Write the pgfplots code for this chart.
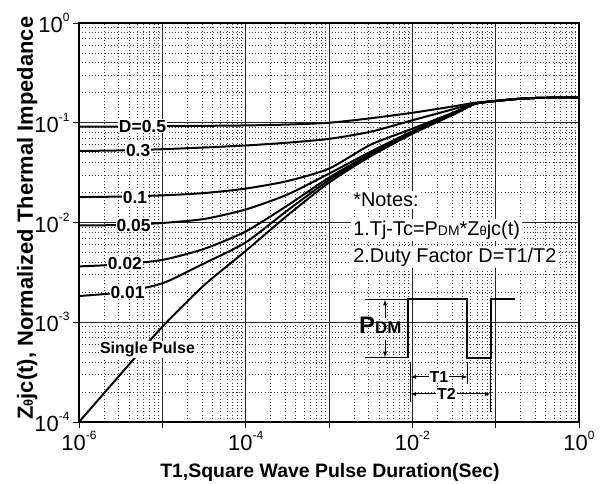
\documentclass[border=0pt]{standalone}
\usepackage{fontspec}
\setmainfont{Liberation Sans}
\usepackage{pgfplots}
\pgfplotsset{compat=1.18}
\usetikzlibrary{arrows.meta}
\newcommand{\fs}[1]{\fontsize{#1}{#1}\selectfont}
\newcommand{\tlab}[1]{10\raisebox{11bp}{\fs{12}#1}}
\begin{document}
\begin{tikzpicture}
\useasboundingbox (0,0) rectangle (604bp,484bp);
\begin{axis}[
  at={(79bp,62bp)}, anchor=south west,
  scale only axis, width=500bp, height=399bp,
  xmode=log, ymode=log,
  xmin=1e-6, xmax=1, ymin=1e-4, ymax=1,
  xtick={1e-6,1e-5,1e-4,1e-3,1e-2,1e-1,1},
  xticklabels={\tlab{-6},,\tlab{-4},,\tlab{-2},,\tlab{0}},
  ytick={1e-4,1e-3,1e-2,1e-1,1},
  yticklabels={\tlab{-4},\tlab{-3},\tlab{-2},\tlab{-1},\tlab{0}},
  minor xtick={2e-6,3e-6,4e-6,5e-6,6e-6,7e-6,8e-6,9e-6,2e-5,3e-5,4e-5,5e-5,6e-5,7e-5,8e-5,9e-5,2e-4,3e-4,4e-4,5e-4,6e-4,7e-4,8e-4,9e-4,2e-3,3e-3,4e-3,5e-3,6e-3,7e-3,8e-3,9e-3,0.02,0.03,0.04,0.05,0.06,0.07,0.08,0.09,0.2,0.3,0.4,0.5,0.6,0.7,0.8,0.9},
  minor ytick={2e-4,3e-4,4e-4,5e-4,6e-4,7e-4,8e-4,9e-4,2e-3,3e-3,4e-3,5e-3,6e-3,7e-3,8e-3,9e-3,0.02,0.03,0.04,0.05,0.06,0.07,0.08,0.09,0.2,0.3,0.4,0.5,0.6,0.7,0.8,0.9},
  xtick pos=left, ytick pos=left,
  tick align=outside,
  major tick length=6bp, minor tick length=0pt,
  grid=both,
  major grid style={black!85, line width=0.8bp},
  minor grid style={black!75, line width=0.8bp, dash pattern=on 1bp off 2.2bp},
  axis line style={line width=1.2bp},
  tick style={black, line width=0.8bp},
  tick label style={font=\fs{22}},
  xlabel={T1,Square Wave Pulse Duration(Sec)},
  xlabel style={font=\fs{19.5}\bfseries, at={(axis description cs:0.502,-0.14)}, anchor=base},
  ylabel={Z{\fs{13}θ}jc(t), Normalized Thermal Impedance},
  ylabel style={font=\fs{22}\bfseries, at={(axis description cs:-0.092,0.511)}, anchor=base},
  curve/.style={black, solid, line width=2bp, mark=none, smooth, tension=0.4},
]
% D = 0.5
\addplot[curve] coordinates {(1e-6,0.0912) (3.162e-6,0.0916) (1e-5,0.0923) (3.162e-5,0.0931) (1e-4,0.0940) (3.162e-4,0.0959) (1e-3,0.1000) (3.162e-3,0.1109) (1e-2,0.1259) (3.162e-2,0.1462) (5.623e-2,0.1585) (0.1,0.1652) (0.1778,0.1730) (0.3162,0.1774) (1,0.1799)};
% D = 0.3
\addplot[curve] coordinates {(1e-6,0.0521) (3.162e-6,0.0528) (1e-5,0.0543) (3.162e-5,0.0565) (1e-4,0.0592) (3.162e-4,0.0631) (1e-3,0.0689) (3.162e-3,0.0813) (1e-2,0.1059) (3.162e-2,0.1374) (5.623e-2,0.1567) (0.1,0.1652) (0.1778,0.1730) (0.3162,0.1774) (1,0.1799)};
% D = 0.1
\addplot[curve] coordinates {(1e-6,0.01799) (3.162e-6,0.0182) (1e-5,0.01871) (3.162e-5,0.01972) (1e-4,0.02188) (3.162e-4,0.0260) (1e-3,0.03467) (3.162e-3,0.06026) (1e-2,0.0871) (3.162e-2,0.1274) (5.623e-2,0.1556) (0.1,0.1652) (0.1778,0.1730) (0.3162,0.1774) (1,0.1799)};
% D = 0.05
\addplot[curve] coordinates {(1e-6,0.009333) (3.162e-6,0.009441) (1e-5,0.009886) (3.162e-5,0.01084) (1e-4,0.01349) (3.162e-4,0.01905) (1e-3,0.0309) (3.162e-3,0.05129) (1e-2,0.08222) (3.162e-2,0.1245) (5.623e-2,0.1549) (0.1,0.1652) (0.1778,0.1730) (0.3162,0.1774) (1,0.1799)};
% D = 0.02
\addplot[curve] coordinates {(1e-6,0.003631) (3.162e-6,0.003802) (1e-5,0.004217) (3.162e-5,0.005433) (1e-4,0.008128) (3.162e-4,0.01479) (1e-3,0.02818) (3.162e-3,0.04898) (1e-2,0.08035) (3.162e-2,0.1230) (5.623e-2,0.1549) (0.1,0.1652) (0.1778,0.1730) (0.3162,0.1774) (1,0.1799)};
% D = 0.01
\addplot[curve] coordinates {(1e-6,0.001832) (3.162e-6,0.001995) (1e-5,0.002455) (3.162e-5,0.00389) (1e-4,0.00631) (3.162e-4,0.01318) (1e-3,0.02661) (3.162e-3,0.04786) (1e-2,0.07943) (3.162e-2,0.1225) (5.623e-2,0.1549) (0.1,0.1652) (0.1778,0.1730) (0.3162,0.1774) (1,0.1799)};
% Single pulse
\addplot[curve] coordinates {(1e-6,1.0e-4) (3.162e-6,3.02e-4) (1e-5,9.016e-4) (3.162e-5,0.002344) (1e-4,0.005188) (3.162e-4,0.01175) (1e-3,0.02512) (3.162e-3,0.04624) (1e-2,0.07762) (3.162e-2,0.1216) (5.623e-2,0.1542) (0.1,0.1652) (0.1778,0.1730) (0.3162,0.1774) (1,0.1799)};

% curve labels
\begin{scope}[every node/.style={fill=white, inner sep=1bp, font=\fs{17.5}\bfseries}]
\node at (axis cs:5.78e-6,0.0925) {D=0.5};
\node at (axis cs:5.13e-6,0.0533) {0.3};
\node at (axis cs:4.70e-6,0.0180) {0.1};
\node at (axis cs:4.51e-6,0.00944) {0.05};
\node at (axis cs:3.56e-6,0.00385) {0.02};
\node at (axis cs:3.82e-6,0.00200) {0.01};
\node[anchor=base, font=\fs{16}\bfseries] at (axis cs:6.64e-6,4.81e-4) {Single Pulse};
\end{scope}

% notes
\begin{scope}[every node/.style={anchor=west, fill=white, inner sep=2bp, font=\fs{20}}]
\node at (axis cs:1.84e-3,0.01682) {*Notes:};
\node at (axis cs:1.84e-3,8.41e-3) {1.Tj-Tc=P{\fs{14}DM}*Z{\fs{13}θ}jc(t)};
\node at (axis cs:1.84e-3,4.51e-3) {2.Duty Factor D=T1/T2};
\end{scope}

% pulse diagram
\draw[line width=2.2bp] (axis cs:8.87e-3,4.41e-4) -- (axis cs:8.87e-3,1.70e-3) -- (axis cs:0.0453,1.70e-3) -- (axis cs:0.0453,4.41e-4) -- (axis cs:0.0879,4.41e-4) -- (axis cs:0.0879,1.70e-3) -- (axis cs:0.1706,1.70e-3);
\draw[line width=1bp] (axis cs:2.70e-3,1.70e-3) -- (axis cs:8.87e-3,1.70e-3);
\draw[line width=1bp] (axis cs:2.70e-3,4.41e-4) -- (axis cs:8.87e-3,4.41e-4);
\draw[line width=1bp, -{Latex[length=6bp,width=4bp]}] (axis cs:4.70e-3,1.10e-3) -- (axis cs:4.70e-3,1.70e-3);
\draw[line width=1bp, -{Latex[length=6bp,width=4bp]}] (axis cs:4.70e-3,6.64e-4) -- (axis cs:4.70e-3,4.41e-4);
\node[anchor=base west, inner sep=0, font=\bfseries] at (axis cs:2.29e-3,7.80e-4) {\fs{24}P\fs{17}DM};
\draw[line width=1bp] (axis cs:9.38e-3,4.0e-4) -- (axis cs:9.38e-3,1.58e-4);
\draw[line width=1bp] (axis cs:0.04656,4.0e-4) -- (axis cs:0.04656,2.40e-4);
\draw[line width=1bp] (axis cs:0.0879,4.41e-4) -- (axis cs:0.0879,1.26e-4);
\draw[line width=1bp, {Latex[length=6bp,width=4bp]}-{Latex[length=6bp,width=4bp]}] (axis cs:9.38e-3,2.83e-4) -- (axis cs:0.04656,2.83e-4) node[pos=0.5, fill=white, inner sep=1bp, font=\fs{16}\bfseries] {T1};
\draw[line width=1bp, {Latex[length=6bp,width=4bp]}-{Latex[length=6bp,width=4bp]}] (axis cs:9.38e-3,1.91e-4) -- (axis cs:0.0879,1.91e-4) node[pos=0.45, fill=white, inner sep=1bp, font=\fs{16}\bfseries] {T2};
\end{axis}
\end{tikzpicture}
\end{document}
